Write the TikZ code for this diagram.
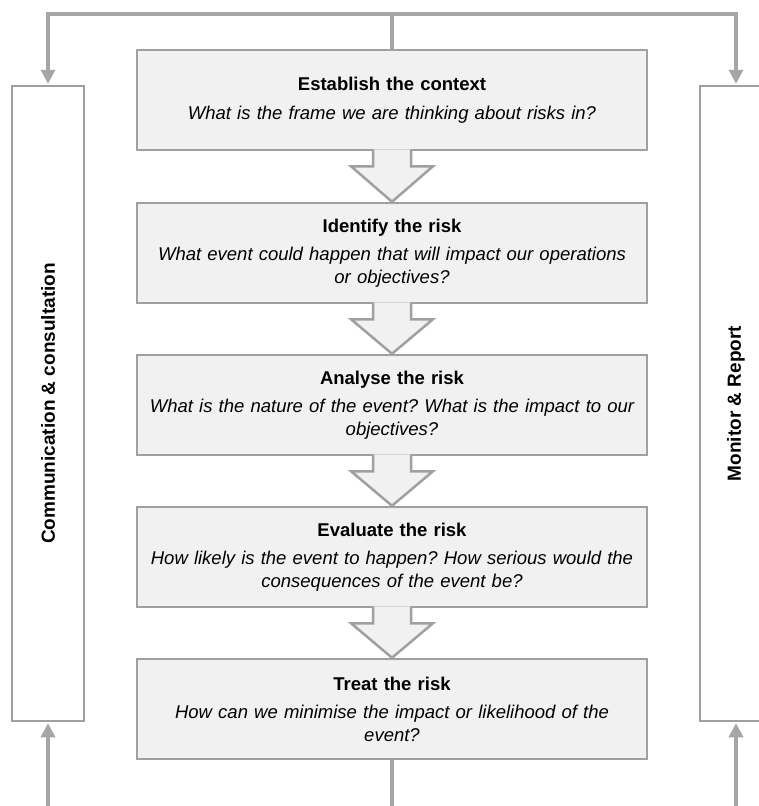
\documentclass[tikz,border=0pt]{standalone}
\usepackage{fontspec}
\setmainfont{Liberation Sans}
\usetikzlibrary{arrows.meta}
\definecolor{boxfill}{HTML}{F1F1F1}
\definecolor{boxline}{HTML}{A0A0A0}
\definecolor{connline}{HTML}{A6A6A6}
\frenchspacing
\tikzset{
  stepbox/.style={draw=boxline, line width=2.5pt, fill=boxfill, minimum width=510pt, minimum height=100pt,
    text width=500pt, align=center, inner sep=0pt, font=\fontsize{18.5}{22.5}\selectfont},
  sidebox/.style={draw=boxline, line width=2.5pt, fill=white, minimum width=72pt, minimum height=635pt, inner sep=0pt},
  sidelabel/.style={rotate=90, font=\fontsize{19}{22}\selectfont\bfseries, inner sep=0pt},
  conn/.style={draw=connline, line width=3.5pt},
  tipped/.style={-{Triangle[width=14pt,length=14pt]}, shorten >=1pt},
  blockarrow/.style={draw=boxline, line width=2.5pt, fill=boxfill, line join=miter}
}
\newcommand{\stepcontent}[2]{{\bfseries #1}\\[6pt]{\itshape #2}}
\begin{document}
\begin{tikzpicture}[x=1pt,y=-1pt]
\useasboundingbox (0,0) rectangle (759,806);
% side boxes
\node[sidebox] (comm) at (48,403.5) {};
\node[sidelabel] (commlabel) at (comm.center) {Communication \& consultation};
\node[sidebox] (mon) at (736,403.5) {};
\node[sidelabel] (monlabel) at (mon.center) {Monitor \& Report};
% steps
\node[stepbox] (b1) at (392,100) {\stepcontent{Establish the context}{What is the frame we are thinking about risks in?}};
\node[stepbox] (b2) at (392,253) {\stepcontent{Identify the risk}{What event could happen that will impact our operations\\or objectives?}};
\node[stepbox] (b3) at (392,405) {\stepcontent{Analyse the risk}{What is the nature of the event? What is the impact to our\\objectives?}};
\node[stepbox] (b4) at (392,557) {\stepcontent{Evaluate the risk}{How likely is the event to happen? How serious would the\\consequences of the event be?}};
\node[stepbox] (b5) at (392,709) {\stepcontent{Treat the risk}{How can we minimise the impact or likelihood of the\\event?}};
% block arrows between steps
\foreach \a/\b in {b1/b2,b2/b3,b3/b4,b4/b5}{
  \path[blockarrow] ([xshift=-19pt,yshift=2pt]\a.south) -- ++(0,17) -- ++(-22,0)
    -- (\b.north) -- ([xshift=41pt,yshift=-15pt]\a.south) -- ++(-22,0) -- ([xshift=19pt,yshift=2pt]\a.south);
}
% connectors
\coordinate (topc) at (392,14);
\coordinate (botl) at (48,806);
\coordinate (botc) at (392,806);
\coordinate (botr) at (736,806);
\draw[conn] (b1.north) -- (topc);
\draw[conn,tipped] (topc) -| (comm.north);
\draw[conn,tipped] (topc) -| (mon.north);
\draw[conn] (b5.south) -- (botc);
\draw[conn,tipped] (botl) -- (comm.south);
\draw[conn,tipped] (botr) -- (mon.south);
\end{tikzpicture}
\end{document}
